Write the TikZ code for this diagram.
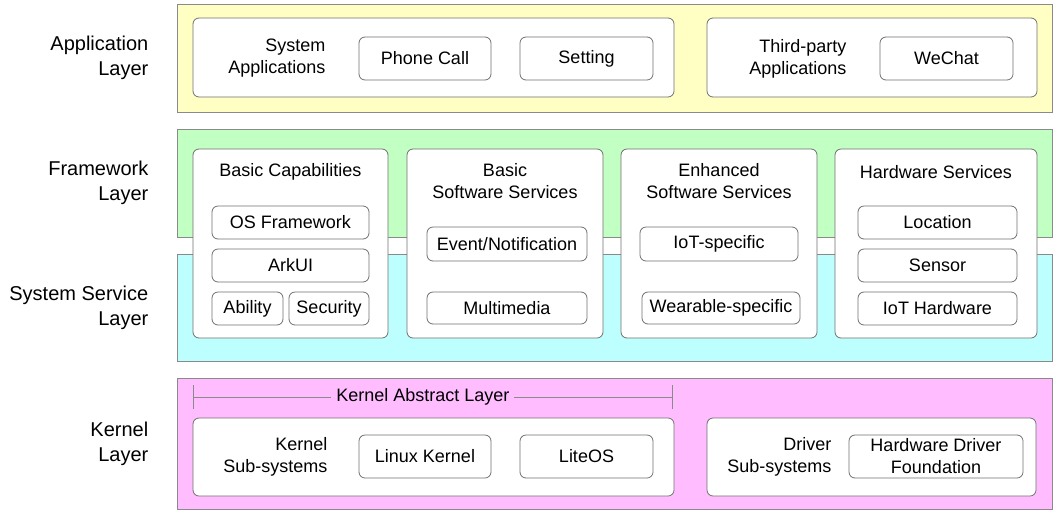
\documentclass[tikz,border=0pt]{standalone}
\usepackage{fontspec}
\setmainfont{Liberation Sans}
\usetikzlibrary{positioning,arrows.meta}

\definecolor{appyellow}{HTML}{FFFFC4}
\definecolor{fwgreen}{HTML}{C2FFC2}
\definecolor{sscyan}{HTML}{BDFFFF}
\definecolor{kernpink}{HTML}{FFBDFF}
\definecolor{edgegray}{HTML}{8A8A8A}
\definecolor{boxgray}{HTML}{707070}

\begin{document}
\begin{tikzpicture}[x=1pt,y=-1pt,
    band/.style={draw=edgegray, line width=1pt, minimum width=875pt, inner sep=0pt},
    layer/.style={align=right, inner sep=0pt, font=\fontsize{20}{25}\selectfont},
    group/.style={draw=boxgray, fill=white, rounded corners=6pt, line width=0.8pt, inner sep=0pt},
    item/.style={group, align=center, font=\fontsize{18}{22}\selectfont},
    caption/.style={inner sep=0pt, font=\fontsize{18}{22}\selectfont}]

  \useasboundingbox (0,0) rectangle (1054,512);

  % layers
  \node [band, fill=appyellow, minimum height=108pt] (app)  at (614.5,58) {};
  \node [band, fill=fwgreen,   minimum height=108pt] (fw)   at (614.5,183) {};
  \node [band, fill=sscyan,    minimum height=107pt] (ss)   at (614.5,307.5) {};
  \node [band, fill=kernpink,  minimum height=131pt] (kern) at (614.5,443.5) {};

  \node [layer, left=28pt of app]  (app label)  {Application\\Layer};
  \node [layer, left=28pt of fw]   (fw label)   {Framework\\Layer};
  \node [layer, left=28pt of ss]   (ss label)   {System Service\\Layer};
  \node [layer, left=28pt of kern] (kern label) {Kernel\\Layer};

  % application layer
  \node [group, minimum width=481pt, minimum height=79pt] (sysapp) at (433.5,57.5) {};
  \node [item, minimum width=132pt, minimum height=43pt] (phone)   at (425,58.5) {Phone Call};
  \node [item, minimum width=133pt, minimum height=43pt] (setting) at (586.5,58.5) {Setting};
  \node [caption, align=right, left=33pt of phone] (sysapp label) {System\\Applications};

  \node [group, minimum width=330pt, minimum height=79pt] (third) at (872,57.5) {};
  \node [item, minimum width=133pt, minimum height=43pt] (wechat) at (946.5,58.5) {WeChat};
  \node [caption, align=right, left=33pt of wechat] (third label) {Third-party\\Applications};

  % framework and system service layers
  \node [group, minimum width=195pt, minimum height=189pt] (basiccap) at (290.5,243.5) {};
  \node [caption] (basiccap label) at (290.5,172) {Basic Capabilities};
  \node [item, minimum width=157pt, minimum height=33pt] (osfw)     at (290.5,222.5) {OS Framework};
  \node [item, minimum width=157pt, minimum height=33pt] (arkui)    at (290.5,265.5) {ArkUI};
  \node [item, minimum width=71pt,  minimum height=33pt] (ability)  at (247.5,308.5) {Ability};
  \node [item, minimum width=80pt,  minimum height=33pt] (security) at (329,308.5) {Security};

  \node [group, minimum width=196pt, minimum height=189pt] (basicsw) at (505,243.5) {};
  \node [caption, align=center] (basicsw label) at (505,181.5) {Basic\\Software Services};
  \node [item, minimum width=160pt, minimum height=34pt] (event)      at (507,244) {Event/Notification};
  \node [item, minimum width=160pt, minimum height=32pt] (multimedia) at (507,308) {Multimedia};

  \node [group, minimum width=196pt, minimum height=189pt] (enhsw) at (719,243.5) {};
  \node [caption, align=center] (enhsw label) at (719,181.5) {Enhanced\\Software Services};
  \node [item, minimum width=158pt, minimum height=34pt] (iotspec)  at (719,244) {IoT-specific};
  \node [item, minimum width=158pt, minimum height=32pt] (wearspec) at (721,308) {Wearable-specific};

  \node [group, minimum width=202pt, minimum height=189pt] (hwsvc) at (936,243.5) {};
  \node [caption] (hwsvc label) at (936,172) {Hardware Services};
  \node [item, minimum width=159pt, minimum height=33pt] (location) at (937.5,222.5) {Location};
  \node [item, minimum width=159pt, minimum height=33pt] (sensor)   at (937.5,265.5) {Sensor};
  \node [item, minimum width=159pt, minimum height=33pt] (iothw)    at (937.5,308.5) {IoT Hardware};

  % kernel layer
  \coordinate (kal west) at (193,397);
  \coordinate (kal east) at (673,397);
  \draw [edgegray, line width=0.8pt, {Bar[width=24pt]}-{Bar[width=24pt]}] (kal west) -- (kal east)
    node [pos=0.479, fill=kernpink, inner sep=5pt, text=black, font=\fontsize{18}{22}\selectfont] (kal) {Kernel Abstract Layer};

  \node [group, minimum width=481pt, minimum height=78pt] (kernsub) at (433.5,457) {};
  \node [item, minimum width=132pt, minimum height=43pt] (linux)  at (425,456.5) {Linux Kernel};
  \node [item, minimum width=133pt, minimum height=43pt] (liteos) at (586.5,456.5) {LiteOS};
  \node [caption, align=right, left=31pt of linux] (kernsub label) {Kernel\\Sub-systems};

  \node [group, minimum width=329pt, minimum height=78pt] (drvsub) at (871.5,457) {};
  \node [item, minimum width=174pt, minimum height=43pt] (hdf) at (936,456.5) {Hardware Driver\\Foundation};
  \node [caption, align=right, left=17pt of hdf] (drvsub label) {Driver\\Sub-systems};

\end{tikzpicture}
\end{document}
